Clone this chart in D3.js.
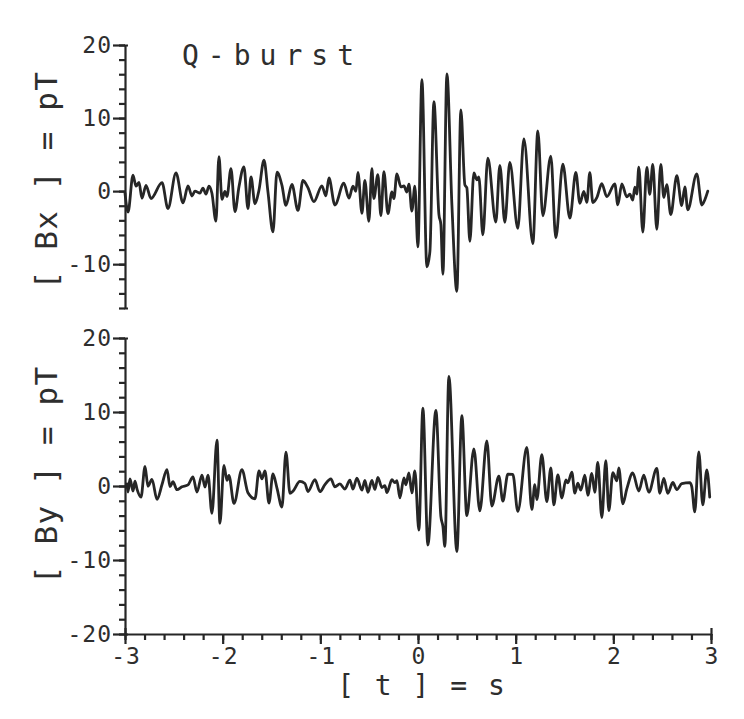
<!DOCTYPE html>
<html>
<head>
<meta charset="utf-8">
<script src="https://cdn.jsdelivr.net/npm/d3@7"></script>
<style>
  html, body { margin: 0; padding: 0; background: #ffffff; }
  svg { display: block; }
</style>
</head>
<body>
<svg id="chart" width="744" height="719"></svg>
<script>
// ---------------- data ----------------
const titleText = "Q-burst";
const xTickValues = [-3, -2, -1, 0, 1, 2, 3];
const yTicksBx = [-10, 0, 10, 20];
const yTicksBy = [-20, -10, 0, 10, 20];

// Bx trace: time [s] and field [pT]
const timeBx = [-3.000,-2.969,-2.918,-2.887,-2.857,-2.826,-2.785,-2.734,-2.621,-2.560,
  -2.478,-2.406,-2.355,-2.314,-2.284,-2.232,-2.202,-2.171,-2.140,-2.110,
  -2.069,-2.038,-2.007,-1.977,-1.956,-1.915,-1.874,-1.833,-1.782,-1.741,
  -1.710,-1.669,-1.628,-1.577,-1.536,-1.485,-1.444,-1.393,-1.352,-1.291,
  -1.229,-1.178,-1.127,-1.066,-0.984,-0.943,-0.912,-0.851,-0.759,-0.707,
  -0.666,-0.636,-0.615,-0.574,-0.544,-0.503,-0.472,-0.452,-0.411,-0.380,
  -0.349,-0.308,-0.267,-0.247,-0.216,-0.175,-0.144,-0.114,-0.093,-0.063,
  -0.032,-0.001,0.040,0.091,0.122,0.163,0.214,0.234,0.255,0.296,
  0.347,0.398,0.439,0.480,0.500,0.531,0.572,0.603,0.623,0.664,
  0.715,0.797,0.838,0.889,0.940,1.022,1.084,1.176,1.227,1.278,
  1.360,1.411,1.483,1.555,1.616,1.657,1.698,1.729,1.759,1.790,
  1.831,1.882,1.933,2.015,2.046,2.087,2.138,2.169,2.199,2.220,
  2.240,2.261,2.302,2.343,2.373,2.404,2.445,2.486,2.517,2.547,
  2.588,2.650,2.701,2.732,2.762,2.854,2.906,2.936,2.967];
const bx = [-0.27,-2.86,2.18,0.68,1.2,-0.98,0.78,-1.01,1.16,-2.40,
  2.50,-1.61,0.70,-0.67,0.0,-0.27,0.41,-0.42,0.67,-0.30,
  -4.12,4.73,-1.13,-0.05,-0.74,3.07,-2.80,0.60,3.33,-2.41,
  1.95,-1.75,0.16,4.24,-0.14,-5.59,2.58,0.79,-1.94,0.91,
  -2.65,1.45,0.48,-1.45,0.72,-0.65,1.80,-1.90,1.09,-0.97,
  0.67,-0.03,2.56,-3.03,1.46,-4.13,3.08,-1.01,2.25,-3.34,
  2.66,-3.08,-0.10,-1.04,2.36,0.57,0.71,-0.12,0.97,-2.72,
  0.68,-7.64,15.27,-10.38,-8.24,12.25,-3.18,-4.54,-11.38,16.04,
  -1.84,-13.71,11.11,0.86,0.46,-6.86,2.48,1.53,1.93,-5.99,
  4.50,-4.24,3.53,-4.26,3.92,-5.10,7.16,-7.18,8.23,-3.37,
  4.80,-6.40,3.68,-3.70,2.56,-1.66,-0.04,-1.54,2.54,-1.56,
  -0.89,1.02,-0.76,1.00,-1.88,0.98,-0.80,-0.40,-1.23,0.55,
  -0.41,3.27,-5.61,3.25,-0.44,3.66,-5.22,3.64,-0.87,0.90,
  -3.21,2.10,-1.99,0.59,-2.55,2.35,-1.90,-1.21,0.0];

// By trace: time [s] and field [pT]
const timeBy = [-2.980,-2.969,-2.949,-2.918,-2.898,-2.877,-2.836,-2.795,-2.765,-2.724,
  -2.672,-2.621,-2.570,-2.539,-2.509,-2.468,-2.417,-2.355,-2.304,-2.263,
  -2.212,-2.181,-2.150,-2.110,-2.058,-2.028,-1.987,-1.956,-1.936,-1.884,
  -1.803,-1.741,-1.669,-1.628,-1.598,-1.567,-1.526,-1.485,-1.444,-1.393,
  -1.352,-1.311,-1.281,-1.209,-1.158,-1.127,-1.055,-1.004,-0.953,-0.892,
  -0.851,-0.800,-0.748,-0.697,-0.666,-0.626,-0.574,-0.544,-0.513,-0.472,
  -0.441,-0.411,-0.370,-0.339,-0.318,-0.267,-0.237,-0.216,-0.185,-0.144,
  -0.124,-0.093,-0.063,-0.032,0.009,0.050,0.101,0.183,0.234,0.255,
  0.275,0.316,0.398,0.449,0.500,0.572,0.633,0.705,0.756,0.828,
  0.869,0.920,0.971,1.022,1.114,1.166,1.196,1.217,1.268,1.319,
  1.360,1.391,1.432,1.473,1.514,1.534,1.575,1.606,1.636,1.667,
  1.708,1.739,1.780,1.810,1.841,1.882,1.923,1.954,1.995,2.036,
  2.056,2.097,2.138,2.199,2.261,2.312,2.363,2.445,2.476,2.517,
  2.558,2.609,2.650,2.701,2.783,2.803,2.834,2.875,2.916,2.957,
  2.987];
const by = [0.27,-0.81,0.95,-0.69,0.66,-0.43,-1.51,2.66,-0.04,0.89,
  -1.81,0.20,2.22,-0.08,0.58,-0.50,-0.11,0.15,1.23,-0.81,
  1.47,-0.15,1.47,-3.68,6.18,-5.04,2.78,0.76,1.43,-2.36,
  2.22,-0.91,-1.73,2.05,0.96,2.04,-2.30,1.62,-0.28,-2.85,
  4.57,-0.99,-0.72,0.62,0.34,-0.74,0.86,-0.77,0.18,0.97,
  -0.12,0.28,-0.41,0.80,-0.42,1.05,-0.57,0.77,-0.85,0.76,
  -0.46,1.15,-0.20,0.05,-0.89,0.85,0.45,0.72,-1.59,1.11,
  0.16,1.77,-0.93,2.03,-5.95,10.53,-7.97,10.23,-4.09,-5.46,
  -8.16,14.81,-8.85,9.51,-4.01,5.03,-3.36,6.08,-2.70,1.34,
  -2.05,1.59,1.58,-3.43,5.20,-3.19,0.19,-1.84,4.23,-2.12,
  2.46,-2.55,1.50,-1.62,0.81,0.41,1.88,-0.96,0.38,-0.57,
  1.45,-1.26,1.71,-0.86,3.18,-4.26,3.43,-3.32,1.80,0.71,
  2.46,-2.41,-0.39,1.76,-0.68,1.47,-0.84,2.39,-0.99,1.03,
  -1.00,0.47,-0.49,0.32,0.45,-0.09,-3.49,4.61,-2.55,2.16,
  -1.49];

// ---------------- drawing ----------------
const svg = d3.select("#chart");
const ink = "#262626";
const textInk = "#2e2e2e";
const fontFam = "'DejaVu Sans Mono', 'Liberation Mono', monospace";

const x = d3.scaleLinear().domain([-3, 3]).range([125, 711]);
const yBx = d3.scaleLinear().domain([-16, 20]).range([308, 45]);
const yBy = d3.scaleLinear().domain([-20, 20]).range([634, 338]);

function styleAxis(g) {
  g.selectAll("path, line").attr("stroke", ink).attr("stroke-width", 2.2).attr("fill", "none");
  g.selectAll("text")
    .attr("fill", textInk)
    .attr("font-family", fontFam)
    .attr("font-size", 23)
    .attr("letter-spacing", 1);
}

function drawYAxis(scale, majors, lo, hi) {
  const gMinor = svg.append("g").attr("transform", `translate(${x(-3)},0)`);
  gMinor.call(d3.axisLeft(scale)
    .tickValues(d3.range(lo, hi + 0.001, 2))
    .tickSize(6).tickSizeOuter(-3).tickFormat(""));
  styleAxis(gMinor);
  const gMajor = svg.append("g").attr("transform", `translate(${x(-3)},0)`);
  gMajor.call(d3.axisLeft(scale)
    .tickValues(majors)
    .tickSize(12).tickPadding(1).tickSizeOuter(-3)
    .tickFormat(d => String(d)));
  gMajor.select(".domain").remove();
  styleAxis(gMajor);
}

drawYAxis(yBx, yTicksBx, -16, 20);
drawYAxis(yBy, yTicksBy, -20, 20);

// x axis (bottom of lower panel)
const xMinor = svg.append("g").attr("transform", `translate(0,${yBy(-20)})`);
xMinor.call(d3.axisBottom(x)
  .tickValues(d3.range(-3, 3.0001, 0.2))
  .tickSize(6).tickSizeOuter(-6).tickFormat(""));
styleAxis(xMinor);
const xMajor = svg.append("g").attr("transform", `translate(0,${yBy(-20)})`);
xMajor.call(d3.axisBottom(x)
  .tickValues(xTickValues)
  .tickSize(10).tickPadding(4)
  .tickFormat(d => String(d)));
xMajor.select(".domain").remove();
styleAxis(xMajor);
xMajor.selectAll("text").attr("dx", 0.5);

// traces
const lineBx = d3.line().x(d => x(d[0])).y(d => yBx(d[1])).curve(d3.curveMonotoneX);
const lineBy = d3.line().x(d => x(d[0])).y(d => yBy(d[1])).curve(d3.curveMonotoneX);

svg.append("path")
  .datum(d3.zip(timeBx, bx))
  .attr("d", lineBx)
  .attr("fill", "none").attr("stroke", ink)
  .attr("stroke-width", 2.8).attr("stroke-linejoin", "round").attr("stroke-linecap", "round");

svg.append("path")
  .datum(d3.zip(timeBy, by))
  .attr("d", lineBy)
  .attr("fill", "none").attr("stroke", ink)
  .attr("stroke-width", 2.8).attr("stroke-linejoin", "round").attr("stroke-linecap", "round");

// title
svg.append("text")
  .attr("x", 182).attr("y", 65)
  .attr("font-family", fontFam).attr("font-size", 28)
  .attr("letter-spacing", 9).attr("fill", textInk)
  .text(titleText);

// axis titles
function yTitle(label, cy) {
  svg.append("text")
    .attr("transform", `translate(57,${cy}) rotate(-90)`)
    .attr("text-anchor", "middle")
    .attr("font-family", fontFam).attr("font-size", 31)
    .attr("letter-spacing", 1.2).attr("fill", textInk)
    .text(label);
}
yTitle("[ Bx ] = pT", yBx(1.5));
yTitle("[ By ] = pT", yBy(1.5));

svg.append("text")
  .attr("x", x(0) + 4).attr("y", 695)
  .attr("text-anchor", "middle")
  .attr("font-family", fontFam).attr("font-size", 28)
  .attr("letter-spacing", 2).attr("fill", textInk)
  .text("[ t ] = s");
</script>
</body>
</html>
